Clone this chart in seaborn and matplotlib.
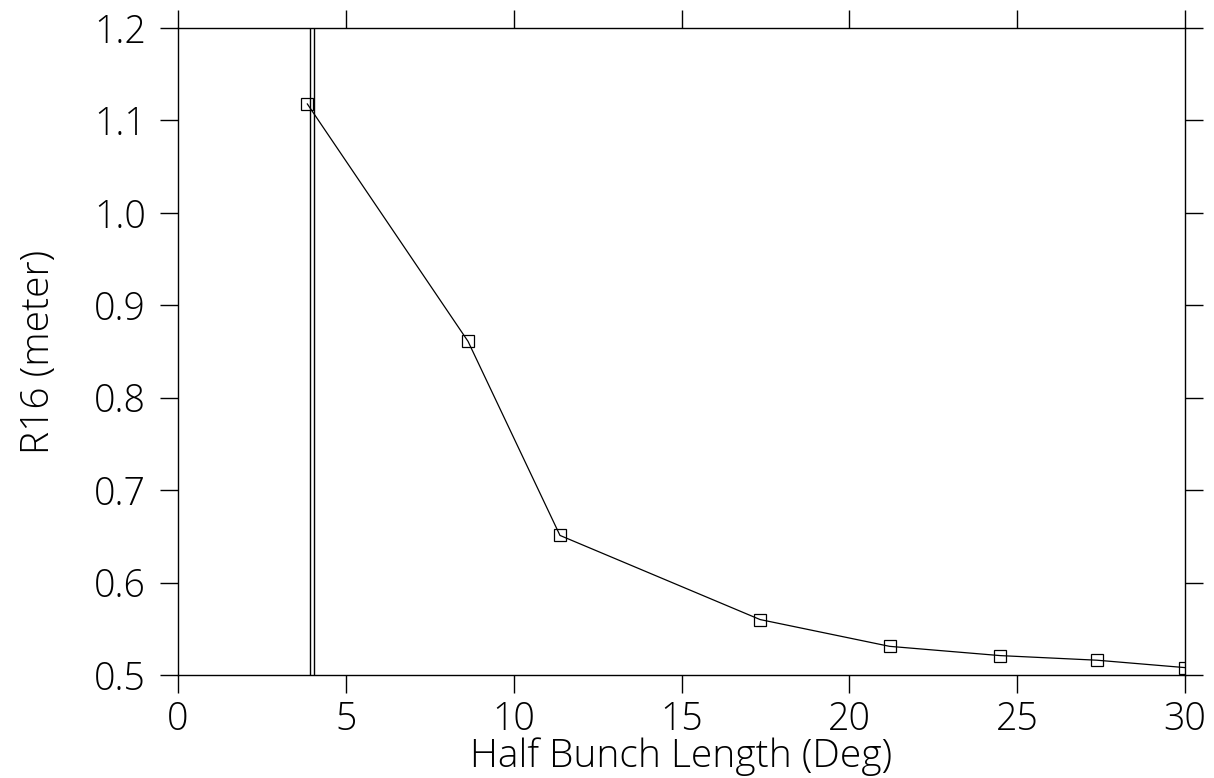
import matplotlib
matplotlib.use("Agg")
import matplotlib.pyplot as plt
import seaborn as sns
import pandas as pd

half_bunch_deg = [3.85, 8.64, 11.38, 17.34, 21.2, 24.49, 27.38, 30.0]
r16_meter = [1.118, 0.861, 0.651, 0.560, 0.531, 0.521, 0.516, 0.508]
vlines_x = [3.93, 4.04]
x_ticks = [0, 5, 10, 15, 20, 25, 30]
y_ticks = [0.5, 0.6, 0.7, 0.8, 0.9, 1.0, 1.1, 1.2]

sns.set_style("ticks")
plt.rcParams['font.family'] = ['Open Sans', 'Lato', 'DejaVu Sans']

df = pd.DataFrame({"x": half_bunch_deg, "y": r16_meter})

fig = plt.figure(figsize=(12.14, 7.78), dpi=100)
ax = fig.add_axes([178/1214, 1 - 675/778, (1185-178)/1214, (675-28)/778])

sns.lineplot(data=df, x="x", y="y", ax=ax, color="black", linewidth=0.9,
             marker="s", markersize=8, markerfacecolor="none",
             markeredgecolor="black", markeredgewidth=0.9)
for vx in vlines_x:
    ax.axvline(vx, color="black", linewidth=1.0)

ax.set_xlim(0, 30)
ax.set_ylim(0.5, 1.2)
ax.set_xticks(x_ticks)
ax.set_yticks(y_ticks)
ax.set_xticklabels([str(t) for t in x_ticks])
ax.set_yticklabels([f"{t:.1f}" for t in y_ticks])
ax.tick_params(axis="both", direction="out", length=13, width=1.0, color="black",
               labelsize=27, top=True, right=True, labeltop=False, labelright=False)
ax.tick_params(axis="x", pad=5)
ax.tick_params(axis="y", pad=10)
for lab in ax.get_xticklabels() + ax.get_yticklabels():
    lab.set_fontweight("light")
    lab.set_color("black")
for s in ax.spines.values():
    s.set_visible(True)
    s.set_color("black")
    s.set_linewidth(1.0)

ax.set_xlabel("Half Bunch Length (Deg)", fontsize=28, fontweight="light", color="black", labelpad=-1)
ax.set_ylabel("R16 (meter)", fontsize=28, fontweight="light", color="black", labelpad=26)

fig.savefig("out.png", dpi=100)
